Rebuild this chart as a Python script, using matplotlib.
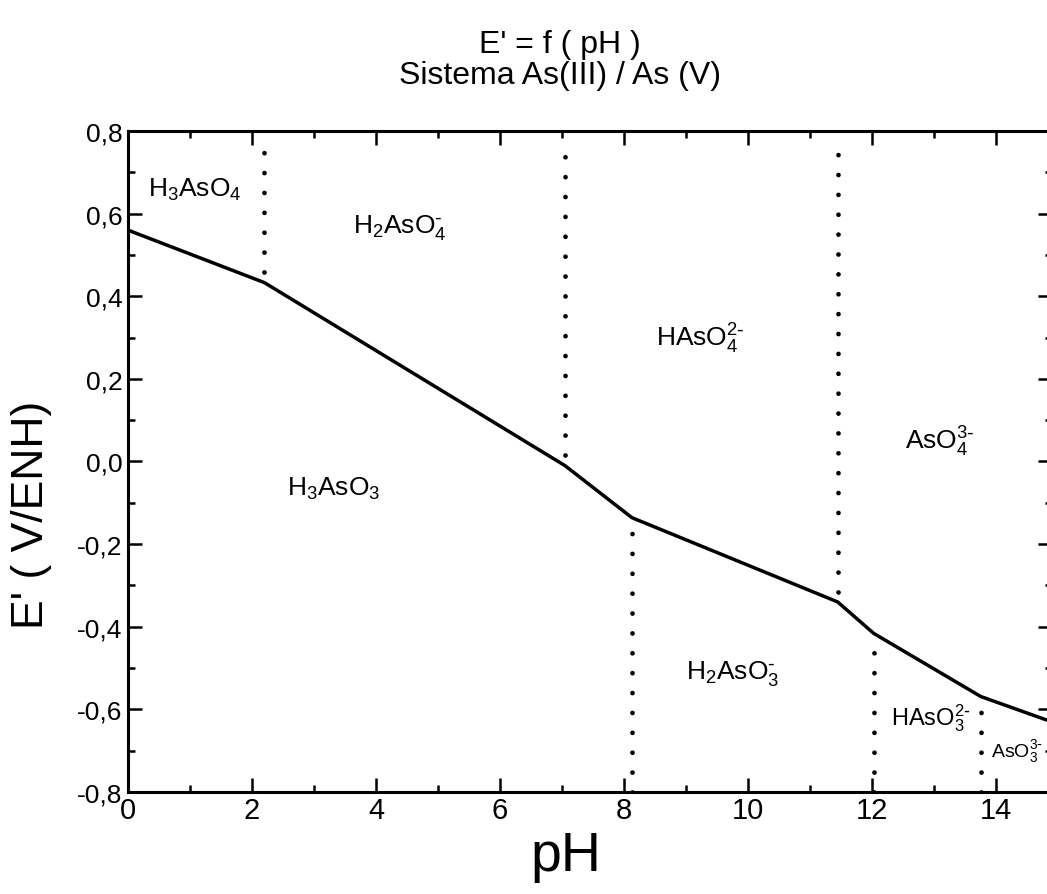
import matplotlib
matplotlib.use("Agg")
import matplotlib.pyplot as plt
from matplotlib.ticker import MultipleLocator, FuncFormatter

plt.rcParams['font.family'] = ['Liberation Sans', 'DejaVu Sans']
plt.rcParams['mathtext.default'] = 'regular'

# E' vs pH polyline
ph = [0, 2.2, 7.05, 8.13, 11.45, 12.03, 13.76, 14.9]
e_pot = [0.56, 0.433, -0.01, -0.136, -0.34, -0.416, -0.569, -0.63]

# boundaries: dotted line going up (As(V) pKa) or down (As(III) pKa)
up_ph = [2.2, 7.05, 11.45]
up_e = [0.433, -0.01, -0.34]
down_ph = [8.13, 12.03, 13.76]
down_e = [-0.136, -0.416, -0.569]

species = [r'$H_3AsO_4$', r'$H_2AsO_4^{\text{-}}$', r'$HAsO_4^{2\text{-}}$', r'$AsO_4^{3\text{-}}$',
           r'$H_3AsO_3$', r'$H_2AsO_3^{\text{-}}$', r'$HAsO_3^{2\text{-}}$', r'$AsO_3^{3\text{-}}$']
species_x = [1.08, 4.39, 9.23, 13.1, 3.32, 9.76, 12.95, 14.35]
species_y = [0.66, 0.57, 0.30, 0.05, -0.065, -0.51, -0.62, -0.70]
species_size = [19, 19, 19, 19, 19, 19, 17, 14]

fig = plt.figure(figsize=(10.47, 8.95), dpi=100)
ax = fig.add_axes([0.1223, 0.114, 0.882, 0.7385])

ax.plot(ph, e_pot, color='black', lw=2.5)

dots = dict(color='black', lw=3.4, linestyle=(0, (0.01, 4.2)), dash_capstyle='round')
for x, e in zip(up_ph, up_e):
    ax.plot([x, x], [e + 0.025, 0.785], **dots)
for x, e in zip(down_ph, down_e):
    ax.plot([x, x], [-0.8, e - 0.025], **dots)

for s, x, y, fs in zip(species, species_x, species_y, species_size):
    ax.text(x, y, s, fontsize=fs, ha='center', va='center')

ax.set_xlim(0, 14.9)
ax.set_ylim(-0.8, 0.8)
ax.xaxis.set_major_locator(MultipleLocator(2))
ax.xaxis.set_minor_locator(MultipleLocator(1))
ax.yaxis.set_major_locator(MultipleLocator(0.2))
ax.yaxis.set_minor_locator(MultipleLocator(0.1))
ax.yaxis.set_major_formatter(FuncFormatter(lambda v, p: f'{v:.1f}'.replace('.', ',').replace('−', '-')))
ax.xaxis.set_major_formatter(FuncFormatter(lambda v, p: f'{v:.0f}'))

ax.tick_params(which='both', direction='in', top=True, right=True, width=1.8)
ax.tick_params(which='major', length=10)
ax.tick_params(which='minor', length=5)
ax.tick_params(axis='x', labelsize=21, pad=3)
ax.tick_params(axis='y', labelsize=19, pad=4)
for sp in ax.spines.values():
    sp.set_linewidth(2.2)

fig.text(0.535, 0.932, "E' = f ( pH )\nSistema As(III) / As (V)", fontsize=23,
         ha='center', va='center', linespacing=1.05)
fig.text(0.03, 0.425, "E' ( V/ENH)", fontsize=32, rotation=90, ha='center', va='center')
fig.text(0.54, 0.042, "pH", fontsize=40, ha='center', va='center')

fig.savefig('out.png', dpi=100)
